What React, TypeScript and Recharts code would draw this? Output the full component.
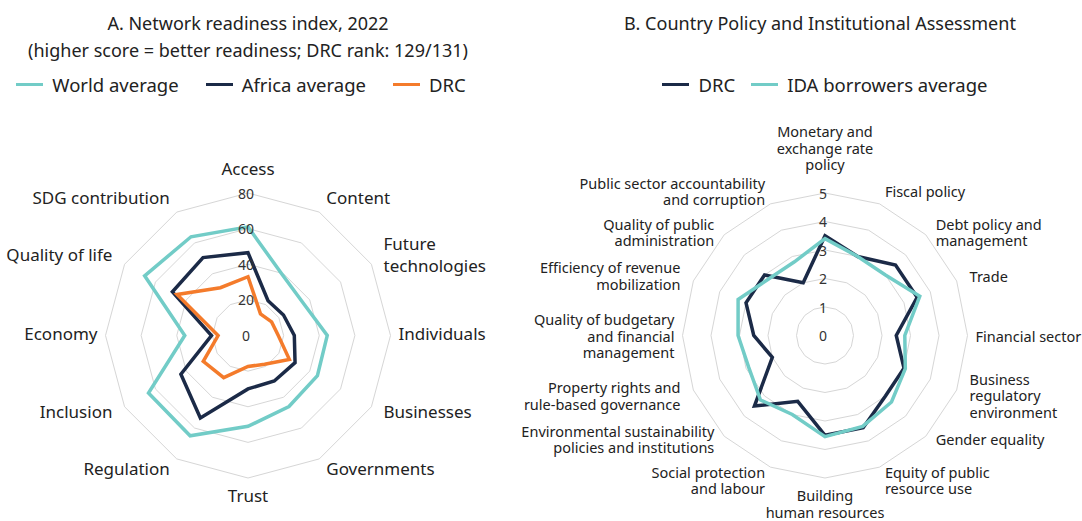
import { RadarChart, Radar, PolarGrid, PolarAngleAxis, PolarRadiusAxis, Legend } from 'recharts';

const FONT = '"Noto Sans", sans-serif';
const TEAL = '#72ccc7';
const NAVY = '#1b2a47';
const ORANGE = '#f47b2b';
const GRID = '#d6d6d6';
const TEXT = '#222';

// Panel A: Network readiness index
const nriAxes = [
  'Access', 'Content', 'Future\ntechnologies', 'Individuals', 'Businesses', 'Governments',
  'Trust', 'Regulation', 'Inclusion', 'Economy', 'Quality of life', 'SDG contribution',
];
const nriSeries = ['World average', 'Africa average', 'DRC'];
const worldAvg = [61, 39, 36, 44.5, 45, 46, 51, 65, 64.5, 35.5, 67, 64];
const africaAvg = [46.5, 22.5, 23, 26, 30.5, 29.5, 30, 53.5, 43.5, 20.5, 49, 50.5];
const drcNri = [33, 14, 15.3, 17, 26.8, 18.6, 17.4, 27.3, 29, 16.8, 46, 31];

// Panel B: CPIA
const cpiaAxes = [
  'Monetary and\nexchange rate\npolicy', 'Fiscal policy', 'Debt policy and\nmanagement', 'Trade',
  'Financial sector', 'Business\nregulatory\nenvironment', 'Gender equality', 'Equity of public\nresource use',
  'Building\nhuman resources', 'Social protection\nand labour', 'Environmental sustainability\npolicies and institutions',
  'Property rights and\nrule-based governance', 'Quality of budgetary\nand financial\nmanagement',
  'Efficiency of revenue\nmobilization', 'Quality of public\nadministration', 'Public sector accountability\nand corruption',
];
const cpiaSeries = ['DRC', 'IDA borrowers average'];
const drcCpia = [3.5, 3.0, 3.5, 3.5, 2.5, 3.0, 3.0, 3.5, 3.5, 2.5, 3.5, 2.0, 2.5, 3.0, 3.0, 2.0];
const idaAvg = [3.4, 3.0, 3.0, 3.6, 2.8, 3.05, 3.3, 3.45, 3.55, 3.0, 3.2, 2.9, 3.05, 3.3, 2.8, 2.8];

const nriData = nriAxes.map((name, i) => ({ name, world: worldAvg[i], africa: africaAvg[i], drc: drcNri[i] }));
const cpiaData = cpiaAxes.map((name, i) => ({ name, drc: drcCpia[i], ida: idaAvg[i] }));

const CY = 335.5;
const R = 142.5;
const CX_A = 248;
const CX_B = 335; // right chart sits at left: 490

const makeAngleTick = (cx: number, fontSize: number, lineH: number, shift: number, topOff: number) => (props: any) => {
  const { payload } = props;
  const rad = (payload.coordinate * Math.PI) / 180;
  const ux = Math.cos(rad);
  const uy = -Math.sin(rad);
  const off = Math.abs(uy) < 0.1 ? 8 : 14;
  const px = cx + ux * (R + off);
  const py = CY + uy * (R + off);
  const lines = String(payload.value).split('\n');
  const anchor = Math.abs(ux) < 0.05 ? 'middle' : ux > 0 ? 'start' : 'end';
  let y0 = py - ((lines.length - 1) * lineH) / 2 + shift;
  if (Math.abs(Math.abs(uy) - 0.707) < 0.05) y0 -= uy * 10;
  if (uy < -0.95) y0 = py - topOff - (lines.length - 1) * lineH;
  if (uy > 0.95) y0 = py + 3;
  return (
    <text x={px} y={y0} textAnchor={anchor} dominantBaseline="central" fontSize={fontSize} fill={TEXT} fontFamily={FONT}>
      {lines.map((l, i) => (
        <tspan key={i} x={px} y={y0 + i * lineH}>{l}</tspan>
      ))}
    </text>
  );
};

const RadiusTick = (props: any) => (
  <text x={props.x - 2} y={props.y} textAnchor="middle" dominantBaseline="central" fontSize={14} fill="#333" fontFamily={FONT}>
    {props.payload.value}
  </text>
);

const makeLegend = (order: string[], gap: number) => (props: any) => {
  const items = [...(props.payload || [])].sort((a: any, b: any) => order.indexOf(a.value) - order.indexOf(b.value));
  return (
    <div style={{ display: 'flex', justifyContent: 'center', fontFamily: FONT, fontSize: 18.5, color: TEXT }}>
      {items.map((p: any, i: number) => (
        <span key={i} style={{ display: 'flex', alignItems: 'center', marginLeft: i ? gap : 0 }}>
          <span style={{ display: 'inline-block', width: 27, height: 3, background: p.color, marginRight: 9 }} />
          <span>{p.value}</span>
        </span>
      ))}
    </div>
  );
};

const titleStyle: any = {
  position: 'absolute', top: 10, textAlign: 'center', fontFamily: FONT, fontSize: 18, lineHeight: '27px', color: TEXT,
};

export default function App() {
  return (
    <div style={{ position: 'absolute', left: 0, top: 0, width: 1082, height: 521, background: '#fff', overflow: 'hidden' }}>
      <div style={{ ...titleStyle, left: 0, width: 496 }}>
        A. Network readiness index, 2022<br />(higher score = better readiness; DRC rank: 129/131)
      </div>
      <div style={{ ...titleStyle, left: 520, width: 600 }}>B. Country Policy and Institutional Assessment</div>

      <div style={{ position: 'absolute', left: 0, top: 0 }}>
        <RadarChart width={490} height={521} data={nriData} cx={CX_A} cy={CY} outerRadius={R} margin={{ top: 0, right: 0, bottom: 0, left: 0 }}>
          <PolarGrid gridType="polygon" radialLines={false} stroke={GRID} />
          <PolarAngleAxis dataKey="name" axisLine={false} tickLine={false} tick={makeAngleTick(CX_A, 17, 22, -3, 11)} />
          <PolarRadiusAxis angle={90} domain={[0, 80]} tickCount={5} axisLine={false} tickLine={false} tick={RadiusTick} />
          <Radar name="World average" dataKey="world" stroke={TEAL} strokeWidth={3.5} fill="none" fillOpacity={0} isAnimationActive={false} />
          <Radar name="Africa average" dataKey="africa" stroke={NAVY} strokeWidth={3.5} fill="none" fillOpacity={0} isAnimationActive={false} />
          <Radar name="DRC" dataKey="drc" stroke={ORANGE} strokeWidth={3.5} fill="none" fillOpacity={0} isAnimationActive={false} />
          <Legend layout="horizontal" verticalAlign="middle" align="center" content={makeLegend(nriSeries, 27)}
            wrapperStyle={{ top: 72, left: 0, width: 482 }} />
        </RadarChart>
      </div>

      <div style={{ position: 'absolute', left: 490, top: 0 }}>
        <RadarChart width={592} height={521} data={cpiaData} cx={CX_B} cy={CY} outerRadius={R} margin={{ top: 0, right: 0, bottom: 0, left: 0 }}>
          <PolarGrid gridType="polygon" radialLines={false} stroke={GRID} />
          <PolarAngleAxis dataKey="name" axisLine={false} tickLine={false} tick={makeAngleTick(CX_B, 14.5, 16.5, 0, 15)} />
          <PolarRadiusAxis angle={90} domain={[0, 5]} tickCount={6} axisLine={false} tickLine={false} tick={RadiusTick} />
          <Radar name="DRC" dataKey="drc" stroke={NAVY} strokeWidth={3.5} fill="none" fillOpacity={0} isAnimationActive={false} />
          <Radar name="IDA borrowers average" dataKey="ida" stroke={TEAL} strokeWidth={3.5} fill="none" fillOpacity={0} isAnimationActive={false} />
          <Legend layout="horizontal" verticalAlign="middle" align="center" content={makeLegend(cpiaSeries, 16)}
            wrapperStyle={{ top: 72, left: 0, width: 670 }} />
        </RadarChart>
      </div>
    </div>
  );
}
